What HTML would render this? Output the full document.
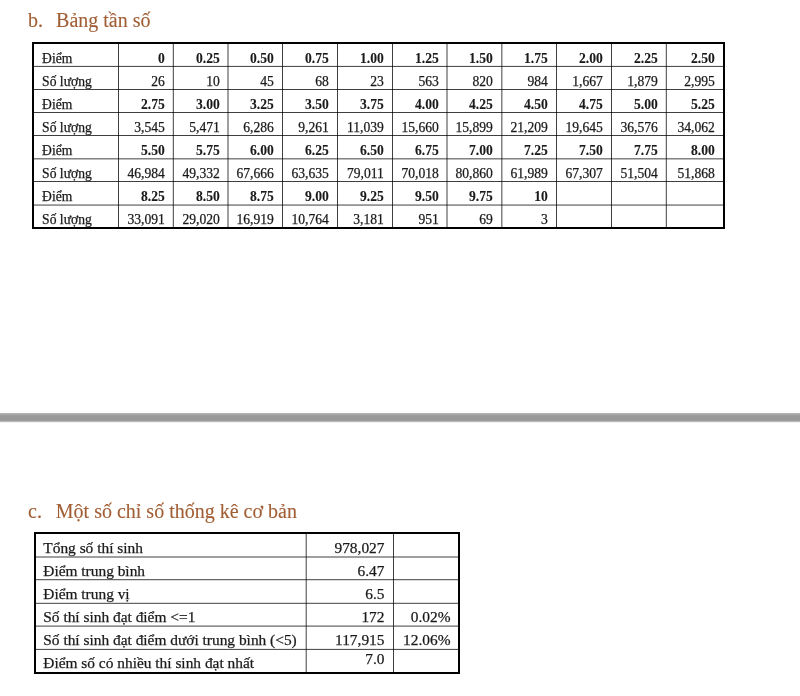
<!DOCTYPE html>
<html><head><meta charset="utf-8"><style>
html,body{margin:0;padding:0;background:#fff;}
body{will-change:transform;width:800px;height:696px;position:relative;overflow:hidden;font-family:"Liberation Serif",serif;color:#1a1a1a;}
.a{position:absolute;white-space:nowrap;line-height:1;-webkit-text-stroke:0.25px #1a1a1a;}
.h{position:absolute;white-space:nowrap;line-height:1;font-size:20px;color:#a15e34;-webkit-text-stroke:0.12px #a15e34;}
.v{position:absolute;width:1px;background:#555;mix-blend-mode:multiply;}
.hl{position:absolute;height:1px;background:#555;mix-blend-mode:multiply;}
.t1{font-size:13.6px;letter-spacing:0.0px;}
.t2{font-size:15.4px;letter-spacing:0.0px;}
.b{font-weight:bold;-webkit-text-stroke:0.1px #1a1a1a;}
.r{text-align:right;}
</style></head><body>

<div class="h" style="left:28.1px;top:9.75px">b.</div>
<div class="h" style="left:56.1px;top:9.75px">Bảng tần số</div>
<div style="position:absolute;left:32px;top:42px;width:689px;height:183px;border:2px solid #000;"></div>
<div class="v" style="left:118px;top:44px;height:183px;background:#3f3f3f"></div>
<div class="v" style="left:172px;top:44px;height:183px;background:#d9d9d9"></div>
<div class="v" style="left:173px;top:44px;height:183px;background:#656565"></div>
<div class="v" style="left:227px;top:44px;height:183px;background:#9f9f9f"></div>
<div class="v" style="left:228px;top:44px;height:183px;background:#9f9f9f"></div>
<div class="v" style="left:282px;top:44px;height:183px;background:#3f3f3f"></div>
<div class="v" style="left:337px;top:44px;height:183px;background:#3f3f3f"></div>
<div class="v" style="left:392px;top:44px;height:183px;background:#3f3f3f"></div>
<div class="v" style="left:446px;top:44px;height:183px;background:#9f9f9f"></div>
<div class="v" style="left:447px;top:44px;height:183px;background:#9f9f9f"></div>
<div class="v" style="left:501px;top:44px;height:183px;background:#828282"></div>
<div class="v" style="left:502px;top:44px;height:183px;background:#bcbcbc"></div>
<div class="v" style="left:556px;top:44px;height:183px;background:#3f3f3f"></div>
<div class="v" style="left:611px;top:44px;height:183px;background:#3f3f3f"></div>
<div class="v" style="left:665px;top:44px;height:183px;background:#d9d9d9"></div>
<div class="v" style="left:666px;top:44px;height:183px;background:#656565"></div>
<div class="hl" style="top:65px;left:34px;width:689px;background:#ececec"></div>
<div class="hl" style="top:66px;left:34px;width:689px;background:#525252"></div>
<div class="hl" style="top:89px;left:34px;width:689px;background:#3f3f3f"></div>
<div class="hl" style="top:112px;left:34px;width:689px;background:#3f3f3f"></div>
<div class="hl" style="top:135px;left:34px;width:689px;background:#3f3f3f"></div>
<div class="hl" style="top:158px;left:34px;width:689px;background:#828282"></div>
<div class="hl" style="top:159px;left:34px;width:689px;background:#bcbcbc"></div>
<div class="hl" style="top:181px;left:34px;width:689px;background:#3f3f3f"></div>
<div class="hl" style="top:204px;left:34px;width:689px;background:#a9a9a9"></div>
<div class="hl" style="top:205px;left:34px;width:689px;background:#959595"></div>
<div class="a t1" style="left:42.1px;top:52.16px">Điểm</div>
<div class="a t1 b" style="right:635.2px;top:52.16px">0</div>
<div class="a t1 b" style="right:580.2px;top:52.16px">0.25</div>
<div class="a t1 b" style="right:526.2px;top:52.16px">0.50</div>
<div class="a t1 b" style="right:471.2px;top:52.16px">0.75</div>
<div class="a t1 b" style="right:416.2px;top:52.16px">1.00</div>
<div class="a t1 b" style="right:361.2px;top:52.16px">1.25</div>
<div class="a t1 b" style="right:307.2px;top:52.16px">1.50</div>
<div class="a t1 b" style="right:252.20000000000005px;top:52.16px">1.75</div>
<div class="a t1 b" style="right:197.20000000000005px;top:52.16px">2.00</div>
<div class="a t1 b" style="right:142.20000000000005px;top:52.16px">2.25</div>
<div class="a t1 b" style="right:85.20000000000005px;top:52.16px">2.50</div>
<div class="a t1" style="left:42.1px;top:75.16px">Số lượng</div>
<div class="a t1" style="right:635.2px;top:75.16px">26</div>
<div class="a t1" style="right:580.2px;top:75.16px">10</div>
<div class="a t1" style="right:526.2px;top:75.16px">45</div>
<div class="a t1" style="right:471.2px;top:75.16px">68</div>
<div class="a t1" style="right:416.2px;top:75.16px">23</div>
<div class="a t1" style="right:361.2px;top:75.16px">563</div>
<div class="a t1" style="right:307.2px;top:75.16px">820</div>
<div class="a t1" style="right:252.20000000000005px;top:75.16px">984</div>
<div class="a t1" style="right:197.20000000000005px;top:75.16px">1,667</div>
<div class="a t1" style="right:142.20000000000005px;top:75.16px">1,879</div>
<div class="a t1" style="right:85.20000000000005px;top:75.16px">2,995</div>
<div class="a t1" style="left:42.1px;top:98.16px">Điểm</div>
<div class="a t1 b" style="right:635.2px;top:98.16px">2.75</div>
<div class="a t1 b" style="right:580.2px;top:98.16px">3.00</div>
<div class="a t1 b" style="right:526.2px;top:98.16px">3.25</div>
<div class="a t1 b" style="right:471.2px;top:98.16px">3.50</div>
<div class="a t1 b" style="right:416.2px;top:98.16px">3.75</div>
<div class="a t1 b" style="right:361.2px;top:98.16px">4.00</div>
<div class="a t1 b" style="right:307.2px;top:98.16px">4.25</div>
<div class="a t1 b" style="right:252.20000000000005px;top:98.16px">4.50</div>
<div class="a t1 b" style="right:197.20000000000005px;top:98.16px">4.75</div>
<div class="a t1 b" style="right:142.20000000000005px;top:98.16px">5.00</div>
<div class="a t1 b" style="right:85.20000000000005px;top:98.16px">5.25</div>
<div class="a t1" style="left:42.1px;top:121.16px">Số lượng</div>
<div class="a t1" style="right:635.2px;top:121.16px">3,545</div>
<div class="a t1" style="right:580.2px;top:121.16px">5,471</div>
<div class="a t1" style="right:526.2px;top:121.16px">6,286</div>
<div class="a t1" style="right:471.2px;top:121.16px">9,261</div>
<div class="a t1" style="right:416.2px;top:121.16px">11,039</div>
<div class="a t1" style="right:361.2px;top:121.16px">15,660</div>
<div class="a t1" style="right:307.2px;top:121.16px">15,899</div>
<div class="a t1" style="right:252.20000000000005px;top:121.16px">21,209</div>
<div class="a t1" style="right:197.20000000000005px;top:121.16px">19,645</div>
<div class="a t1" style="right:142.20000000000005px;top:121.16px">36,576</div>
<div class="a t1" style="right:85.20000000000005px;top:121.16px">34,062</div>
<div class="a t1" style="left:42.1px;top:144.16px">Điểm</div>
<div class="a t1 b" style="right:635.2px;top:144.16px">5.50</div>
<div class="a t1 b" style="right:580.2px;top:144.16px">5.75</div>
<div class="a t1 b" style="right:526.2px;top:144.16px">6.00</div>
<div class="a t1 b" style="right:471.2px;top:144.16px">6.25</div>
<div class="a t1 b" style="right:416.2px;top:144.16px">6.50</div>
<div class="a t1 b" style="right:361.2px;top:144.16px">6.75</div>
<div class="a t1 b" style="right:307.2px;top:144.16px">7.00</div>
<div class="a t1 b" style="right:252.20000000000005px;top:144.16px">7.25</div>
<div class="a t1 b" style="right:197.20000000000005px;top:144.16px">7.50</div>
<div class="a t1 b" style="right:142.20000000000005px;top:144.16px">7.75</div>
<div class="a t1 b" style="right:85.20000000000005px;top:144.16px">8.00</div>
<div class="a t1" style="left:42.1px;top:167.16px">Số lượng</div>
<div class="a t1" style="right:635.2px;top:167.16px">46,984</div>
<div class="a t1" style="right:580.2px;top:167.16px">49,332</div>
<div class="a t1" style="right:526.2px;top:167.16px">67,666</div>
<div class="a t1" style="right:471.2px;top:167.16px">63,635</div>
<div class="a t1" style="right:416.2px;top:167.16px">79,011</div>
<div class="a t1" style="right:361.2px;top:167.16px">70,018</div>
<div class="a t1" style="right:307.2px;top:167.16px">80,860</div>
<div class="a t1" style="right:252.20000000000005px;top:167.16px">61,989</div>
<div class="a t1" style="right:197.20000000000005px;top:167.16px">67,307</div>
<div class="a t1" style="right:142.20000000000005px;top:167.16px">51,504</div>
<div class="a t1" style="right:85.20000000000005px;top:167.16px">51,868</div>
<div class="a t1" style="left:42.1px;top:190.16px">Điểm</div>
<div class="a t1 b" style="right:635.2px;top:190.16px">8.25</div>
<div class="a t1 b" style="right:580.2px;top:190.16px">8.50</div>
<div class="a t1 b" style="right:526.2px;top:190.16px">8.75</div>
<div class="a t1 b" style="right:471.2px;top:190.16px">9.00</div>
<div class="a t1 b" style="right:416.2px;top:190.16px">9.25</div>
<div class="a t1 b" style="right:361.2px;top:190.16px">9.50</div>
<div class="a t1 b" style="right:307.2px;top:190.16px">9.75</div>
<div class="a t1 b" style="right:252.20000000000005px;top:190.16px">10</div>
<div class="a t1" style="left:42.1px;top:213.16px">Số lượng</div>
<div class="a t1" style="right:635.2px;top:213.16px">33,091</div>
<div class="a t1" style="right:580.2px;top:213.16px">29,020</div>
<div class="a t1" style="right:526.2px;top:213.16px">16,919</div>
<div class="a t1" style="right:471.2px;top:213.16px">10,764</div>
<div class="a t1" style="right:416.2px;top:213.16px">3,181</div>
<div class="a t1" style="right:361.2px;top:213.16px">951</div>
<div class="a t1" style="right:307.2px;top:213.16px">69</div>
<div class="a t1" style="right:252.20000000000005px;top:213.16px">3</div>
<div style="position:absolute;left:0;top:413px;width:800px;height:1px;background:#b4b4b4"></div>
<div style="position:absolute;left:0;top:414px;width:800px;height:1px;background:#a6a6a6"></div>
<div style="position:absolute;left:0;top:415px;width:800px;height:1px;background:#9e9e9e"></div>
<div style="position:absolute;left:0;top:416px;width:800px;height:1px;background:#9a9a9a"></div>
<div style="position:absolute;left:0;top:417px;width:800px;height:1px;background:#999"></div>
<div style="position:absolute;left:0;top:418px;width:800px;height:1px;background:#999"></div>
<div style="position:absolute;left:0;top:419px;width:800px;height:1px;background:#999"></div>
<div style="position:absolute;left:0;top:420px;width:800px;height:1px;background:#9b9b9b"></div>
<div style="position:absolute;left:0;top:421px;width:800px;height:1px;background:#b8b8b8"></div>
<div style="position:absolute;left:0;top:422px;width:800px;height:1px;background:#f2f2f2"></div>
<div class="h" style="left:28.1px;top:501.05px">c.</div>
<div class="h" style="left:55.8px;top:501.05px">Một số chỉ số thống kê cơ bản</div>
<div style="position:absolute;left:34px;top:532px;width:422px;height:138px;border:2px solid #000;"></div>
<div class="v" style="left:305px;top:534px;height:138px;background:#c5c5c5"></div>
<div class="v" style="left:306px;top:534px;height:138px;background:#797979"></div>
<div class="v" style="left:393px;top:534px;height:138px;background:#3f3f3f"></div>
<div class="hl" style="top:556px;left:36px;width:422px;background:#9f9f9f"></div>
<div class="hl" style="top:557px;left:36px;width:422px;background:#9f9f9f"></div>
<div class="hl" style="top:579px;left:36px;width:422px;background:#656565"></div>
<div class="hl" style="top:580px;left:36px;width:422px;background:#d9d9d9"></div>
<div class="hl" style="top:602px;left:36px;width:422px;background:#d9d9d9"></div>
<div class="hl" style="top:603px;left:36px;width:422px;background:#656565"></div>
<div class="hl" style="top:625px;left:36px;width:422px;background:#b2b2b2"></div>
<div class="hl" style="top:626px;left:36px;width:422px;background:#8c8c8c"></div>
<div class="hl" style="top:648px;left:36px;width:422px;background:#ececec"></div>
<div class="hl" style="top:649px;left:36px;width:422px;background:#525252"></div>
<div class="a t2" style="left:43.3px;top:540.20px">Tổng số thí sinh</div>
<div class="a t2" style="right:415.5px;top:540.20px">978,027</div>
<div class="a t2" style="left:43.3px;top:563.20px">Điểm trung bình</div>
<div class="a t2" style="right:415.5px;top:563.20px">6.47</div>
<div class="a t2" style="left:43.3px;top:586.20px">Điểm trung vị</div>
<div class="a t2" style="right:415.5px;top:586.20px">6.5</div>
<div class="a t2" style="left:43.3px;top:609.20px">Số thí sinh đạt điểm &lt;=1</div>
<div class="a t2" style="right:415.5px;top:609.20px">172</div>
<div class="a t2" style="right:349.5px;top:609.20px">0.02%</div>
<div class="a t2" style="left:43.3px;top:632.20px">Số thí sinh đạt điểm dưới trung bình (&lt;5)</div>
<div class="a t2" style="right:415.5px;top:632.20px">117,915</div>
<div class="a t2" style="right:349.5px;top:632.20px">12.06%</div>
<div class="a t2" style="left:43.3px;top:655.20px">Điểm số có nhiều thí sinh đạt nhất</div>
<div class="a t2" style="right:415.5px;top:651.00px">7.0</div>
</body></html>
